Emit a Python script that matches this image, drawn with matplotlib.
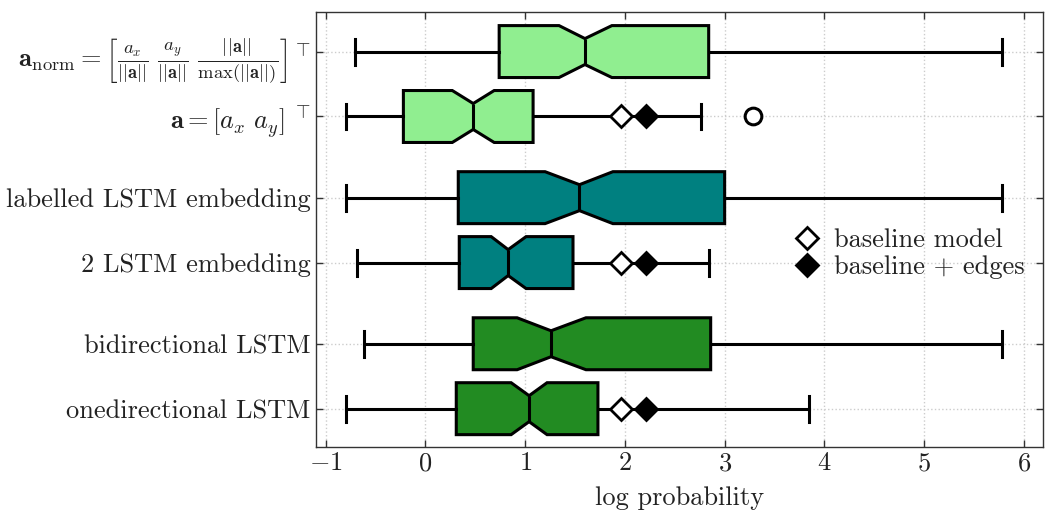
import matplotlib
matplotlib.use('Agg')
import matplotlib.pyplot as plt
from matplotlib.lines import Line2D
from matplotlib.ticker import FuncFormatter

plt.rcParams['mathtext.fontset'] = 'cm'
plt.rcParams['font.family'] = 'serif'
plt.rcParams['font.serif'] = ['cmr10']
plt.rcParams['axes.unicode_minus'] = False

# rows from bottom to top
labels = ['onedirectional LSTM', 'bidirectional LSTM',
          '2 LSTM embedding', 'labelled LSTM embedding',
          r'$\mathbf{a} = [a_x\ a_y]^{\ \top}$',
          r'$\mathbf{a}_{\mathrm{norm}} = \left[\frac{a_x}{||\mathbf{a}||}\ \frac{a_y}{||\mathbf{a}||}\ \frac{||\mathbf{a}||}{\max(||\mathbf{a}||)}\right]^\top$']
positions = [0, 0.8, 1.8, 2.6, 3.6, 4.4]
whislo = [-0.80, -0.61, -0.68, -0.80, -0.80, -0.71]
q1 = [0.31, 0.48, 0.34, 0.33, -0.22, 0.74]
med = [1.04, 1.26, 0.83, 1.545, 0.48, 1.60]
q3 = [1.73, 2.86, 1.48, 3.00, 1.08, 2.84]
whishi = [3.85, 5.78, 2.84, 5.78, 2.76, 5.78]
notch_lo = [0.86, 0.92, 0.66, 1.20, 0.27, 1.34]
notch_hi = [1.22, 1.61, 1.01, 1.88, 0.69, 1.87]
fliers = [[], [], [], [], [3.28], []]
colors = ['forestgreen', 'forestgreen', 'teal', 'teal', 'lightgreen', 'lightgreen']

# baseline markers (rows with markers)
base_rows = [0, 2, 4]
baseline_model = [1.96, 1.96, 1.96]
baseline_edges = [2.21, 2.21, 2.21]

txt = '#222222'
fig, ax = plt.subplots(figsize=(10.45, 5.13), dpi=100)
fig.subplots_adjust(left=0.302, right=0.998, top=0.977, bottom=0.129)

stats = []
for i in range(len(labels)):
    stats.append({'label': labels[i], 'whislo': whislo[i], 'q1': q1[i], 'med': med[i],
                  'q3': q3[i], 'whishi': whishi[i], 'cilo': notch_lo[i], 'cihi': notch_hi[i],
                  'fliers': fliers[i]})

lw = 2.2
bp = ax.bxp(stats, positions=positions, widths=0.64, vert=False, shownotches=True,
            patch_artist=True,
            boxprops=dict(linewidth=lw, edgecolor='black'),
            whiskerprops=dict(linewidth=lw, color='black'),
            capprops=dict(linewidth=lw, color='black'),
            medianprops=dict(linewidth=lw, color='black'),
            flierprops=dict(marker='o', markersize=12, markerfacecolor='white',
                            markeredgecolor='black', markeredgewidth=2.2))
for patch, c in zip(bp['boxes'], colors):
    patch.set_facecolor(c)

ys = [positions[r] for r in base_rows]
ax.plot(baseline_model, ys, 'D', ms=11, mfc='white', mec='black', mew=2, ls='none', zorder=5)
ax.plot(baseline_edges, ys, 'D', ms=11, mfc='black', mec='black', mew=2, ls='none', zorder=5)

handles = [Line2D([], [], marker='D', ls='none', ms=11, mfc='white', mec='black', mew=2),
           Line2D([], [], marker='D', ls='none', ms=11, mfc='black', mec='black', mew=2)]
leg = ax.legend(handles, ['baseline model', 'baseline + edges'], loc='center right',
                bbox_to_anchor=(1.0, 0.444), frameon=False, fontsize=19,
                labelspacing=0.12, handletextpad=0.4, handlelength=1.2, borderaxespad=0.3)
for t in leg.get_texts():
    t.set_color(txt)

ax.set_xlim(-1.1, 6.19)
ax.set_ylim(-0.47, 4.89)
ax.set_xticks(range(-1, 7))
ax.xaxis.set_major_formatter(FuncFormatter(lambda v, p: '$%d$' % v))
ax.set_yticks(positions)
ax.set_yticklabels(labels)
ax.tick_params(direction='in', top=True, right=True, labelsize=19, length=5, width=1,
               labelcolor=txt, color='#333333')
ax.grid(True, ls=':', color='#cccccc', lw=1)
ax.set_axisbelow(True)
ax.set_xlabel('log probability', fontsize=19, color=txt, labelpad=8)
for s in ax.spines.values():
    s.set_linewidth(1)
    s.set_color('#333333')

plt.savefig('out.png')
